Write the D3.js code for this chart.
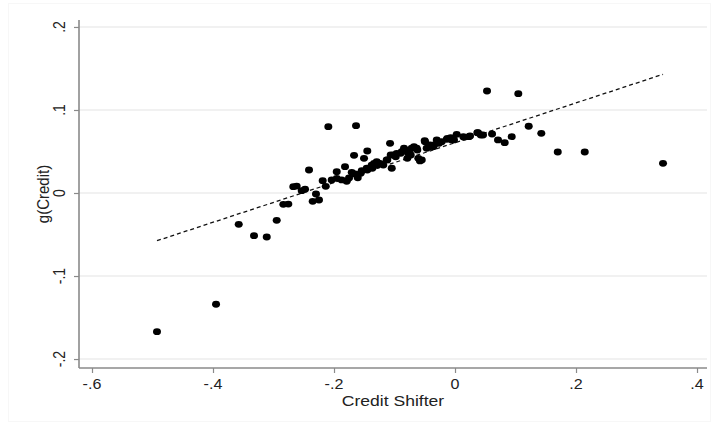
<!DOCTYPE html>
<html>
<head>
<meta charset="utf-8">
<script src="https://cdn.jsdelivr.net/npm/d3@7"></script>
<style>
  html, body { margin: 0; padding: 0; background: #ffffff; }
  svg { display: block; }
  text { font-family: "Liberation Sans", Arial, Helvetica, sans-serif; fill: #222; }
</style>
</head>
<body>
<svg id="chart" width="714" height="429"></svg>
<script>
// ---- data ----
const creditShifter = [
  -0.4926, -0.395, -0.3575, -0.3322, -0.3112, -0.2947, -0.2838, -0.2755, -0.2673, -0.2617,
  -0.2534, -0.2479, -0.2413, -0.2352, -0.2248, -0.2298, -0.2187, -0.2137, -0.2094, -0.1636,
  -0.2038, -0.1955, -0.1873, -0.179, -0.1955, -0.1818, -0.1707, -0.1608, -0.1669, -0.1504,
  -0.145, -0.1542, -0.146, -0.1377, -0.1294, -0.124, -0.1185, -0.1129, -0.1046, -0.102,
  -0.0964, -0.0881, -0.0826, -0.0772, -0.0716, -0.0633, -0.0607, -0.055, -0.0496, -0.0468,
  -0.0413, -0.0359, -0.0302, -0.022, -0.0137, -0.0055, 0.0028, 0.0137, -0.1074, 0.0248,
  0.038, 0.0463, 0.0529, 0.1046, 0.1218, 0.1426, 0.1698, 0.2144, 0.3438, 0.0937,
  0.0821, 0.0711, 0.0612, -0.1559, -0.1367, -0.1339, -0.098, -0.0898, -0.0843, -0.0788,
  -0.076, -0.0732, -0.0678, -0.0623, -0.0579, -0.0501, -0.043, -0.0347, -0.0264, -0.0127,
  -0.0071, -0.0017, 0.0149, 0.0231, 0.0369, 0.0425, -0.145, -0.1284, -0.1119, -0.1063,
  -0.1653, -0.1752
];
const gCredit = [
  -0.167, -0.134, -0.0377, -0.0514, -0.053, -0.0329, -0.0136, -0.0133, 0.0076, 0.0084,
  0.0028, 0.0045, 0.0277, -0.01, -0.0084, -0.0012, 0.0148, 0.0081, 0.0799, 0.0811,
  0.0157, 0.0177, 0.0157, 0.0141, 0.0257, 0.0317, 0.0249, 0.0184, 0.0454, 0.0418,
  0.0506, 0.0269, 0.0298, 0.0337, 0.0377, 0.0358, 0.0337, 0.0398, 0.0298, 0.0458,
  0.0478, 0.0498, 0.0518, 0.0478, 0.0539, 0.0539, 0.0418, 0.0398, 0.0618, 0.0539,
  0.0578, 0.0558, 0.0639, 0.0618, 0.0647, 0.0639, 0.0707, 0.0678, 0.0599, 0.0687,
  0.0727, 0.0699, 0.1229, 0.1196, 0.0804, 0.0719, 0.0494, 0.0494, 0.0358, 0.0678,
  0.0606, 0.0639, 0.0711, 0.0237, 0.0298, 0.0358, 0.0437, 0.0478, 0.0539, 0.0418,
  0.0498, 0.0458, 0.0558, 0.0518, 0.0386, 0.063, 0.0558, 0.0578, 0.0599, 0.0659,
  0.0666, 0.0639, 0.0671, 0.0678, 0.0727, 0.0699, 0.0277, 0.0337, 0.0398, 0.0458,
  0.0229, 0.0181
];
// fitted line endpoints (x, y)
const fitX = [-0.4926, 0.3438];
const fitY = [-0.0575, 0.143];
const xTicks = [-0.6, -0.4, -0.2, 0, 0.2, 0.4];
const xTickLabels = ["-.6", "-.4", "-.2", "0", ".2", ".4"];
const yTicks = [-0.2, -0.1, 0, 0.1, 0.2];
const yTickLabels = ["-.2", "-.1", "0", ".1", ".2"];
const xTitle = "Credit Shifter";
const yTitle = "g(Credit)";

// ---- layout ----
(function () {
const svg = d3.select("#chart");
const pLeft = 79, pRight = 707, pTop = 20, pBottom = 368;
const x = d3.scaleLinear().domain([-0.6215, 0.4165]).range([pLeft, pRight]);
const y = d3.scaleLinear().domain([-0.2108, 0.2084]).range([pBottom, pTop]);
const sx = 1.15; // horizontal stretch of the reference

// faint outer graph region border
svg.append("rect").attr("x", 8.5).attr("y", 3.5).attr("width", 702).attr("height", 418)
  .attr("fill", "#ffffff").attr("stroke", "#f7f7f7").attr("stroke-width", 1);

// grid lines
svg.append("g").selectAll("line").data(yTicks).join("line")
  .attr("x1", pLeft).attr("x2", pRight)
  .attr("y1", d => y(d)).attr("y2", d => y(d))
  .attr("stroke", "#ececec").attr("stroke-width", 1.5);

// y axis
const yAxis = svg.append("g").attr("transform", `translate(${pLeft},0)`)
  .call(d3.axisLeft(y).tickValues(yTicks).tickSize(5).tickFormat(""));
yAxis.select(".domain").attr("stroke", "#8a8a8a").attr("stroke-width", 1.6)
  .attr("d", `M0,${pTop}V${pBottom}`);
yAxis.selectAll(".tick line").attr("stroke", "#8a8a8a").attr("stroke-width", 1.2);

// x axis
const xAxis = svg.append("g").attr("transform", `translate(0,${pBottom})`)
  .call(d3.axisBottom(x).tickValues(xTicks).tickSize(5).tickFormat(""));
xAxis.select(".domain").attr("stroke", "#8a8a8a").attr("stroke-width", 1.6)
  .attr("d", `M${pLeft},0H${pRight}`);
xAxis.selectAll(".tick line").attr("stroke", "#8a8a8a").attr("stroke-width", 1.2);

// y tick labels (rotated)
svg.append("g").selectAll("text").data(yTicks).join("text")
  .attr("transform", d => `translate(65,${y(d)}) scale(${sx},1) rotate(-90)`)
  .attr("text-anchor", "middle")
  .attr("font-size", 14)
  .text((d, i) => yTickLabels[i]);

// x tick labels
svg.append("g").selectAll("text").data(xTicks).join("text")
  .attr("transform", d => `translate(${x(d)},389) scale(${sx},1)`)
  .attr("text-anchor", "middle")
  .attr("font-size", 14)
  .text((d, i) => xTickLabels[i]);

// axis titles
svg.append("text")
  .attr("transform", `translate(${(pLeft + pRight) / 2},406) scale(1.17,1)`)
  .attr("text-anchor", "middle").attr("font-size", 15)
  .text(xTitle);
svg.append("text")
  .attr("transform", `translate(49,${(pTop + pBottom) / 2}) scale(${sx},1) rotate(-90)`)
  .attr("text-anchor", "middle").attr("font-size", 15)
  .text(yTitle);

// fitted dashed line
svg.append("line")
  .attr("x1", x(fitX[0])).attr("y1", y(fitY[0]))
  .attr("x2", x(fitX[1])).attr("y2", y(fitY[1]))
  .attr("stroke", "#111").attr("stroke-width", 1.3)
  .attr("stroke-dasharray", "4,3");

// points
svg.append("g").selectAll("ellipse").data(creditShifter.map((v, i) => [v, gCredit[i]])).join("ellipse")
  .attr("cx", d => x(d[0])).attr("cy", d => y(d[1]))
  .attr("rx", 4).attr("ry", 3.4)
  .attr("fill", "#000");
})();
</script>
</body>
</html>
